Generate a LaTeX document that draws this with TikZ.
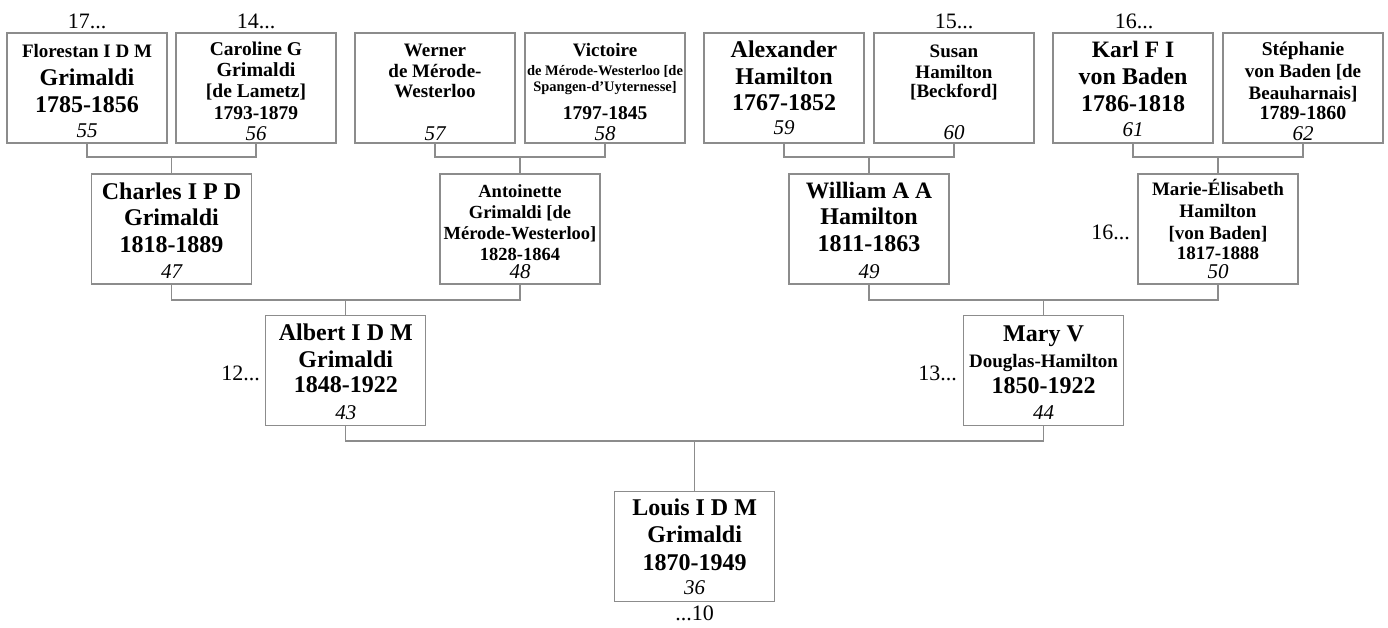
\documentclass[tikz,border=0pt]{standalone}
\usepackage{fontspec}
\setmainfont{Liberation Serif}
\definecolor{lc}{RGB}{140,140,140}
\newcommand\fs[1]{\fontsize{#1}{#1}\selectfont}
\newcommand\pl[5]{\node[txt,font=#4] (#1) at (#2,#3) {#5};}
\begin{document}
\begin{tikzpicture}[x=1pt,y=-1pt,
  pbox/.style={draw=lc,line width=1.3pt,minimum width=160pt,minimum height=110pt,inner sep=0pt,fill=white},
  conn/.style={draw=lc,line width=1.3pt},
  txt/.style={anchor=base,inner sep=0pt},
  txte/.style={anchor=base east,inner sep=0pt}]
\path[use as bounding box] (0,0) rectangle (1388,627);
% junction coordinates
\coordinate (j1) at (171.5,157);
\coordinate (j2) at (520,157);
\coordinate (j3) at (869,157);
\coordinate (j4) at (1218,157);
\coordinate (k1) at (345.75,300);
\coordinate (k2) at (1043.5,300);
\coordinate (m1) at (694.6,441);
% boxes
\node[pbox] (p55) at (87,88) {};
\node[pbox] (p56) at (256,88) {};
\node[pbox] (p57) at (435,88) {};
\node[pbox] (p58) at (605,88) {};
\node[pbox] (p59) at (784,88) {};
\node[pbox] (p60) at (954,88) {};
\node[pbox] (p61) at (1133,88) {};
\node[pbox] (p62) at (1303,88) {};
\node[pbox] (p47) at (171.5,229) {};
\node[pbox] (p48) at (520,229) {};
\node[pbox] (p49) at (869,229) {};
\node[pbox] (p50) at (1218,229) {};
\node[pbox] (p43) at (345.75,370.5) {};
\node[pbox] (p44) at (1043.5,370.5) {};
\node[pbox] (p36) at (694.6,546.5) {};
% connectors
\draw[conn] (p55.south) |- (j1) -| (p56.south);
\draw[conn] (j1) -- (p47.north);
\draw[conn] (p57.south) |- (j2) -| (p58.south);
\draw[conn] (j2) -- (p48.north);
\draw[conn] (p59.south) |- (j3) -| (p60.south);
\draw[conn] (j3) -- (p49.north);
\draw[conn] (p61.south) |- (j4) -| (p62.south);
\draw[conn] (j4) -- (p50.north);
\draw[conn] (p47.south) |- (k1) -| (p48.south);
\draw[conn] (k1) -- (p43.north);
\draw[conn] (p49.south) |- (k2) -| (p50.south);
\draw[conn] (k2) -- (p44.north);
\draw[conn] (p43.south) |- (m1) -| (p44.south);
\draw[conn] (m1) -- (p36.north);
% box 55
\pl{t55a}{87}{57}{\bfseries\fs{19}}{Florestan I D M}
\pl{t55b}{87}{85}{\bfseries\fs{24}}{Grimaldi}
\pl{t55c}{87}{112}{\bfseries\fs{24}}{1785-1856}
\pl{t55n}{87}{137}{\itshape\fs{21}}{55}
% box 56
\pl{t56a}{256}{55}{\bfseries\fs{19.5}}{Caroline G}
\pl{t56b}{256}{76}{\bfseries\fs{20}}{Grimaldi}
\pl{t56c}{256}{97}{\bfseries\fs{19.5}}{[de Lametz]}
\pl{t56d}{256}{119}{\bfseries\fs{19.5}}{1793-1879}
\pl{t56n}{256}{140}{\itshape\fs{21}}{56}
% box 57
\pl{t57a}{435}{56}{\bfseries\fs{19}}{Werner}
\pl{t57b}{435}{77}{\bfseries\fs{19}}{de Mérode-}
\pl{t57c}{435}{97}{\bfseries\fs{19}}{Westerloo}
\pl{t57n}{435}{140}{\itshape\fs{21}}{57}
% box 58
\pl{t58a}{605}{56}{\bfseries\fs{19}}{Victoire}
\pl{t58b}{605}{75}{\bfseries\fs{14.5}}{de Mérode-Westerloo [de}
\pl{t58c}{605}{91}{\bfseries\fs{14.5}}{Spangen-d’Uyternesse]}
\pl{t58d}{605}{119}{\bfseries\fs{19.5}}{1797-1845}
\pl{t58n}{605}{140}{\itshape\fs{21}}{58}
% box 59
\pl{t59a}{784}{57}{\bfseries\fs{24}}{Alexander}
\pl{t59b}{784}{84}{\bfseries\fs{24}}{Hamilton}
\pl{t59c}{784}{110}{\bfseries\fs{24}}{1767-1852}
\pl{t59n}{784}{134}{\itshape\fs{21}}{59}
% box 60
\pl{t60a}{954}{57}{\bfseries\fs{19}}{Susan}
\pl{t60b}{954}{78}{\bfseries\fs{19}}{Hamilton}
\pl{t60c}{954}{97}{\bfseries\fs{19}}{[Beckford]}
\pl{t60n}{954}{139}{\itshape\fs{21}}{60}
% box 61
\pl{t61a}{1133}{57}{\bfseries\fs{23.5}}{Karl F I}
\pl{t61b}{1133}{84}{\bfseries\fs{24}}{von Baden}
\pl{t61c}{1133}{111}{\bfseries\fs{24}}{1786-1818}
\pl{t61n}{1133}{136}{\itshape\fs{21}}{61}
% box 62
\pl{t62a}{1303}{55}{\bfseries\fs{19.5}}{Stéphanie}
\pl{t62b}{1303}{77}{\bfseries\fs{19}}{von Baden [de}
\pl{t62c}{1303}{99}{\bfseries\fs{19}}{Beauharnais]}
\pl{t62d}{1303}{119}{\bfseries\fs{20}}{1789-1860}
\pl{t62n}{1303}{140}{\itshape\fs{21}}{62}
% box 47
\pl{t47a}{171.5}{199}{\bfseries\fs{24}}{Charles I P D}
\pl{t47b}{171.5}{225}{\bfseries\fs{24}}{Grimaldi}
\pl{t47c}{171.5}{252}{\bfseries\fs{24}}{1818-1889}
\pl{t47n}{171.5}{278}{\itshape\fs{21}}{47}
% box 48
\pl{t48a}{520}{197}{\bfseries\fs{18.5}}{Antoinette}
\pl{t48b}{520}{218}{\bfseries\fs{18.5}}{Grimaldi [de}
\pl{t48c}{520}{239}{\bfseries\fs{18.5}}{Mérode-Westerloo]}
\pl{t48d}{520}{260}{\bfseries\fs{18.5}}{1828-1864}
\pl{t48n}{520}{278}{\itshape\fs{21}}{48}
% box 49
\pl{t49a}{869}{198}{\bfseries\fs{23.5}}{William A A}
\pl{t49b}{869}{224}{\bfseries\fs{24}}{Hamilton}
\pl{t49c}{869}{251}{\bfseries\fs{24}}{1811-1863}
\pl{t49n}{869}{278}{\itshape\fs{21}}{49}
% box 50
\pl{t50a}{1218}{195}{\bfseries\fs{19}}{Marie-Élisabeth}
\pl{t50b}{1218}{217}{\bfseries\fs{19}}{Hamilton}
\pl{t50c}{1218}{239}{\bfseries\fs{19}}{[von Baden]}
\pl{t50d}{1218}{259}{\bfseries\fs{19}}{1817-1888}
\pl{t50n}{1218}{278}{\itshape\fs{21}}{50}
% box 43
\pl{t43a}{345.75}{340}{\bfseries\fs{24}}{Albert I D M}
\pl{t43b}{345.75}{367}{\bfseries\fs{24}}{Grimaldi}
\pl{t43c}{345.75}{392}{\bfseries\fs{24}}{1848-1922}
\pl{t43n}{345.75}{419}{\itshape\fs{21}}{43}
% box 44
\pl{t44a}{1043.5}{341}{\bfseries\fs{24}}{Mary V}
\pl{t44b}{1043.5}{367}{\bfseries\fs{19}}{Douglas-Hamilton}
\pl{t44c}{1043.5}{393}{\bfseries\fs{24}}{1850-1922}
\pl{t44n}{1043.5}{419}{\itshape\fs{21}}{44}
% box 36
\pl{t36a}{694.6}{515}{\bfseries\fs{24}}{Louis I D M}
\pl{t36b}{694.6}{542}{\bfseries\fs{24}}{Grimaldi}
\pl{t36c}{694.6}{570}{\bfseries\fs{24}}{1870-1949}
\pl{t36n}{694.6}{594}{\itshape\fs{21}}{36}
% continuation labels
\pl{c17}{87}{28}{\fs{22}}{17...}
\pl{c14}{256}{28}{\fs{22}}{14...}
\pl{c15}{954}{28}{\fs{22}}{15...}
\pl{c16a}{1134}{28}{\fs{22}}{16...}
\node[txte,font=\fs{22}] (c16b) at (1130,239) {16...};
\node[txte,font=\fs{22}] (c12) at (260,380) {12...};
\node[txte,font=\fs{22}] (c13) at (957,380) {13...};
\pl{c10}{694.6}{620}{\fs{22}}{...10}
\end{tikzpicture}
\end{document}
